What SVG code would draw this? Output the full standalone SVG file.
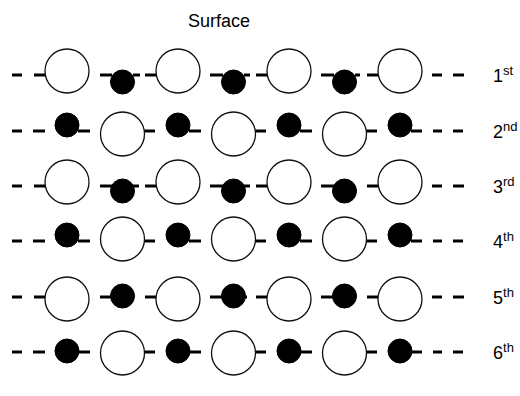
<svg xmlns="http://www.w3.org/2000/svg" width="520" height="396" viewBox="0 0 520 396">
<style>
.o{fill:#fff;stroke:#111;stroke-width:1.3}
.f{fill:#000;stroke:#000;stroke-width:1}
.s{stroke:#000;stroke-width:3}
.t{font-family:"Liberation Sans",Arial,sans-serif;fill:#000}
</style>
<rect width="520" height="396" fill="#fff"/>
<text id="title" class="t" x="219" y="27" font-size="18" text-anchor="middle">Surface</text>
<g id="connectors">
<!-- row 1 y=75 -->
<line class="s" x1="12" y1="75" x2="22" y2="75"/><line class="s" x1="34" y1="75" x2="46" y2="75"/>
<line class="s" x1="100" y1="75" x2="112" y2="75"/><line class="s" x1="133" y1="75" x2="140" y2="75"/>
<line class="s" x1="145" y1="75" x2="157" y2="75"/>
<line class="s" x1="210" y1="75" x2="223" y2="75"/><line class="s" x1="244" y1="75" x2="250" y2="75"/>
<line class="s" x1="256" y1="75" x2="268" y2="75"/>
<line class="s" x1="321" y1="75" x2="334" y2="75"/><line class="s" x1="355" y1="75" x2="360" y2="75"/>
<line class="s" x1="367" y1="75" x2="379" y2="75"/>
<line class="s" x1="432" y1="75" x2="442" y2="75"/><line class="s" x1="453" y1="75" x2="464" y2="75"/>
<!-- row 2 y=131 -->
<line class="s" x1="12" y1="131" x2="22" y2="131"/><line class="s" x1="33" y1="131" x2="45" y2="131"/>
<line class="s" x1="78" y1="131" x2="90" y2="131"/>
<line class="s" x1="144" y1="131" x2="155" y2="131"/>
<line class="s" x1="189" y1="131" x2="201" y2="131"/>
<line class="s" x1="255" y1="131" x2="266" y2="131"/>
<line class="s" x1="300" y1="131" x2="312" y2="131"/>
<line class="s" x1="366" y1="131" x2="377" y2="131"/>
<line class="s" x1="411" y1="131" x2="422" y2="131"/>
<line class="s" x1="433" y1="131" x2="442" y2="131"/><line class="s" x1="453" y1="131" x2="463" y2="131"/>
<!-- row 3 y=186 -->
<line class="s" x1="12" y1="186" x2="22" y2="186"/><line class="s" x1="34" y1="186" x2="46" y2="186"/>
<line class="s" x1="100" y1="186" x2="112" y2="186"/><line class="s" x1="133" y1="186" x2="139" y2="186"/>
<line class="s" x1="145" y1="186" x2="157" y2="186"/>
<line class="s" x1="210" y1="186" x2="223" y2="186"/><line class="s" x1="244" y1="186" x2="250" y2="186"/>
<line class="s" x1="256" y1="186" x2="268" y2="186"/>
<line class="s" x1="321" y1="186" x2="334" y2="186"/>
<line class="s" x1="367" y1="186" x2="379" y2="186"/>
<line class="s" x1="432" y1="186" x2="442" y2="186"/><line class="s" x1="453" y1="186" x2="464" y2="186"/>
<!-- row 4 y=241 -->
<line class="s" x1="12" y1="241" x2="22" y2="241"/><line class="s" x1="33" y1="241" x2="45" y2="241"/>
<line class="s" x1="78" y1="241" x2="90" y2="241"/>
<line class="s" x1="144" y1="241" x2="155" y2="241"/>
<line class="s" x1="189" y1="241" x2="201" y2="241"/>
<line class="s" x1="255" y1="241" x2="266" y2="241"/>
<line class="s" x1="300" y1="241" x2="312" y2="241"/>
<line class="s" x1="366" y1="241" x2="377" y2="241"/>
<line class="s" x1="411" y1="241" x2="422" y2="241"/>
<line class="s" x1="433" y1="241" x2="442" y2="241"/><line class="s" x1="453" y1="241" x2="463" y2="241"/>
<!-- row 5 y=297 -->
<line class="s" x1="12" y1="297" x2="22" y2="297"/><line class="s" x1="34" y1="297" x2="46" y2="297"/>
<line class="s" x1="100" y1="297" x2="112" y2="297"/>
<line class="s" x1="145" y1="297" x2="157" y2="297"/>
<line class="s" x1="210" y1="297" x2="223" y2="297"/><line class="s" x1="244" y1="297" x2="247" y2="297"/>
<line class="s" x1="256" y1="297" x2="268" y2="297"/>
<line class="s" x1="321" y1="297" x2="334" y2="297"/>
<line class="s" x1="367" y1="297" x2="379" y2="297"/>
<line class="s" x1="432" y1="297" x2="442" y2="297"/><line class="s" x1="453" y1="297" x2="464" y2="297"/>
<!-- row 6 y=352 -->
<line class="s" x1="12" y1="352" x2="22" y2="352"/><line class="s" x1="33" y1="352" x2="45" y2="352"/>
<line class="s" x1="78" y1="352" x2="90" y2="352"/>
<line class="s" x1="144" y1="352" x2="155" y2="352"/>
<line class="s" x1="189" y1="352" x2="201" y2="352"/>
<line class="s" x1="255" y1="352" x2="266" y2="352"/>
<line class="s" x1="300" y1="352" x2="312" y2="352"/>
<line class="s" x1="366" y1="352" x2="377" y2="352"/>
<line class="s" x1="411" y1="352" x2="422" y2="352"/>
<line class="s" x1="433" y1="352" x2="442" y2="352"/><line class="s" x1="453" y1="352" x2="463" y2="352"/>
</g>
<g id="row1">
<circle class="o" cx="67" cy="71" r="22"/><circle class="f" cx="122.5" cy="82" r="12"/>
<circle class="o" cx="178" cy="71" r="22"/><circle class="f" cx="233.5" cy="82" r="12"/>
<circle class="o" cx="289" cy="71" r="22"/><circle class="f" cx="344.5" cy="82" r="12"/>
<circle class="o" cx="400" cy="71" r="22"/>
<text class="t" x="493" y="82" font-size="18">1<tspan font-size="13" dy="-7">st</tspan></text>
</g>
<g id="row2">
<circle class="f" cx="67" cy="125" r="12"/><circle class="o" cx="122.5" cy="134" r="22"/>
<circle class="f" cx="178" cy="125" r="12"/><circle class="o" cx="233.5" cy="134" r="22"/>
<circle class="f" cx="289" cy="125" r="12"/><circle class="o" cx="344.5" cy="134" r="22"/>
<circle class="f" cx="400" cy="125" r="12"/>
<text class="t" x="493" y="138" font-size="18">2<tspan font-size="13" dy="-7">nd</tspan></text>
</g>
<g id="row3">
<circle class="o" cx="67" cy="182" r="22"/><circle class="f" cx="122.5" cy="191" r="12"/>
<circle class="o" cx="178" cy="182" r="22"/><circle class="f" cx="233.5" cy="191" r="12"/>
<circle class="o" cx="289" cy="182" r="22"/><circle class="f" cx="344.5" cy="191" r="12"/>
<circle class="o" cx="400" cy="182" r="22"/>
<text class="t" x="493" y="193" font-size="18">3<tspan font-size="13" dy="-7">rd</tspan></text>
</g>
<g id="row4">
<circle class="f" cx="67" cy="235" r="12"/><circle class="o" cx="122.5" cy="239" r="22"/>
<circle class="f" cx="178" cy="235" r="12"/><circle class="o" cx="233.5" cy="239" r="22"/>
<circle class="f" cx="289" cy="235" r="12"/><circle class="o" cx="344.5" cy="239" r="22"/>
<circle class="f" cx="400" cy="235" r="12"/>
<text class="t" x="493" y="248" font-size="18">4<tspan font-size="13" dy="-7">th</tspan></text>
</g>
<g id="row5">
<circle class="o" cx="67" cy="299" r="22"/><circle class="f" cx="122.5" cy="296" r="12"/>
<circle class="o" cx="178" cy="299" r="22"/><circle class="f" cx="233.5" cy="296" r="12"/>
<circle class="o" cx="289" cy="299" r="22"/><circle class="f" cx="344.5" cy="296" r="12"/>
<circle class="o" cx="400" cy="299" r="22"/>
<text class="t" x="493" y="304" font-size="18">5<tspan font-size="13" dy="-7">th</tspan></text>
</g>
<g id="row6">
<circle class="f" cx="67" cy="351" r="12"/><circle class="o" cx="122.5" cy="353" r="22"/>
<circle class="f" cx="178" cy="351" r="12"/><circle class="o" cx="233.5" cy="353" r="22"/>
<circle class="f" cx="289" cy="351" r="12"/><circle class="o" cx="344.5" cy="353" r="22"/>
<circle class="f" cx="400" cy="351" r="12"/>
<text class="t" x="493" y="359" font-size="18">6<tspan font-size="13" dy="-7">th</tspan></text>
</g>
</svg>
